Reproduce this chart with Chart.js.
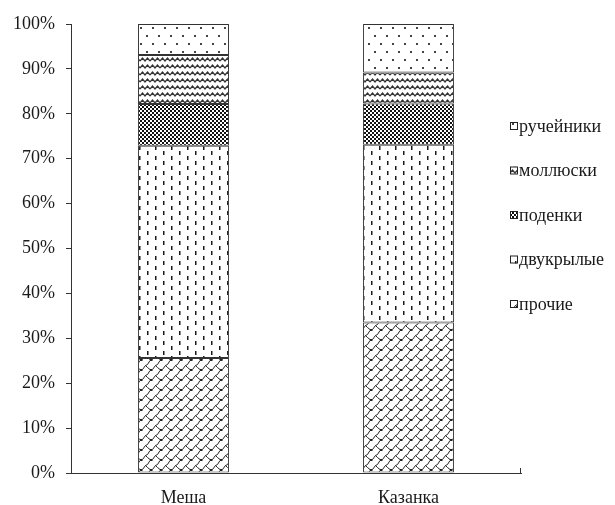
<!DOCTYPE html>
<html>
<head>
<meta charset="utf-8">
<script src="https://cdn.jsdelivr.net/npm/chart.js@4.4.1/dist/chart.umd.min.js"></script>
<style>
  html, body { margin: 0; padding: 0; background: #fff; }
</style>
</head>
<body>
<canvas id="myChart" width="615" height="505"></canvas>
<script>
// categories and series (percent of total)
const categories = ['Меша', 'Казанка'];
const seriesNames = ['прочие', 'двукрылые', 'поденки', 'моллюски', 'ручейники'];
const prochie = [25.6, 33.5];
const dvukrylye = [47.3, 39.6];
const podenki = [9.3, 9.2];
const mollyuski = [10.9, 6.9];
const rucheyniki = [6.9, 10.8];
const yTickStep = 10;

const FONT = '"Liberation Serif", "Times New Roman", serif';
const INK = '#1a1a1a';

//small helper to build a repeating fill
function makePattern(w, h, draw) {
    const c = document.createElement('canvas');
    c.width = w;
    c.height = h;
    const g = c.getContext('2d');
    g.fillStyle = '#fff';
    g.fillRect(0, 0, w, h);
    draw(g);
    return c.getContext('2d').createPattern(c, 'repeat');
}

// shingle-like scales
const patShingle = makePattern(10, 10, g => {
    g.strokeStyle = '#222';
    g.lineWidth = 1;
    g.beginPath();
    g.moveTo(0, 9.5); g.lineTo(2.5, 9.5); g.lineTo(5.5, 5.5); g.lineTo(7.5, 4.5); g.lineTo(10, 0.5);
    g.moveTo(5.5, 5.5); g.lineTo(7.5, 7.5); g.lineTo(10, 9.5);
    g.moveTo(0, 0.5); g.lineTo(2.5, 0.5);
    g.stroke();
});

// dashed vertical
const patDashes = makePattern(16, 10, g => {
    g.fillStyle = '#1a1a1a';
    g.fillRect(3, 1, 1.5, 4);
    g.fillRect(11, 6, 1.5, 4);
});

// small checker board
const patChecker = makePattern(4, 4, g => {
    g.fillStyle = '#111';
    g.fillRect(0, 0, 2, 2);
    g.fillRect(2, 2, 2, 2);
});

// wave
const patWave = makePattern(10, 7, g => {
    g.strokeStyle = '#333';
    g.lineWidth = 1.2;
    g.beginPath();
    g.moveTo(0, 5);
    g.lineTo(2.5, 2);
    g.lineTo(5, 5);
    g.lineTo(7.5, 2);
    g.lineTo(10, 5);
    g.stroke();
});

// sparse dots
const patDots = makePattern(12, 16, g => {
    g.fillStyle = '#444';
    g.fillRect(2, 3, 2, 2);
    g.fillRect(8, 11, 2, 2);
});

const fills = [patShingle, patDashes, patChecker, patWave, patDots];
const values = [prochie, dvukrylye, podenki, mollyuski, rucheyniki];

const datasets = seriesNames.map((name, i) => ({
    label: name,
    data: values[i],
    backgroundColor: fills[i],
    borderColor: '#333',
    borderWidth: 1,
    borderSkipped: false,
    categoryPercentage: 1,
    barPercentage: 0.404
}));

//legend on the right, drawn by hand (top item = last series)
const sideLegend = {
    id: 'sideLegend',
    afterDraw(chart) {
        const ctx = chart.ctx;
        ctx.save();
        ctx.font = '18px ' + FONT;
        ctx.fillStyle = INK;
        ctx.textBaseline = 'middle';
        const n = seriesNames.length;
        for (let k = 0; k < n; k++) {
            const i = n - 1 - k;
            const y = 126 + k * 44.5;
            ctx.fillStyle = fills[i];
            ctx.fillRect(510, y - 4, 8, 8);
            ctx.strokeStyle = '#222';
            ctx.lineWidth = 1;
            ctx.strokeRect(510.5, y - 3.5, 7, 7);
            ctx.fillStyle = INK;
            ctx.fillText(seriesNames[i], 519, y + 1);
        }
        // little end tick on the category axis
        const a = chart.chartArea;
        ctx.strokeStyle = '#333';
        ctx.beginPath();
        ctx.moveTo(a.right - 0.5, a.bottom);
        ctx.lineTo(a.right - 0.5, a.bottom - 5);
        ctx.stroke();
        ctx.restore();
    }
};

new Chart(document.getElementById('myChart'), {
    type: 'bar',
    data: { labels: categories, datasets: datasets },
    plugins: [sideLegend],
    options: {
        responsive: false,
        animation: false,
        devicePixelRatio: 1,
        layout: { padding: { top: 24, right: 94, left: 0, bottom: 0 } },
        plugins: {
            legend: { display: false },
            tooltip: { enabled: false }
        },
        scales: {
            x: {
                stacked: true,
                offset: true,
                grid: { drawOnChartArea: false, drawTicks: false },
                border: { color: '#333', width: 1 },
                ticks: { color: INK, font: { family: FONT, size: 18 }, padding: 14 },
                afterFit: s => { s.height = 32; }
            },
            y: {
                stacked: true,
                min: 0,
                max: 100,
                ticks: {
                    stepSize: yTickStep,
                    color: INK,
                    font: { family: FONT, size: 18 },
                    padding: 11,
                    callback: v => v + '%'
                },
                grid: { drawOnChartArea: false, drawTicks: true, tickLength: 5, color: '#333' },
                border: { color: '#333', width: 1 },
                afterFit: s => { s.width = 71; }
            }
        }
    }
});
</script>
</body>
</html>
